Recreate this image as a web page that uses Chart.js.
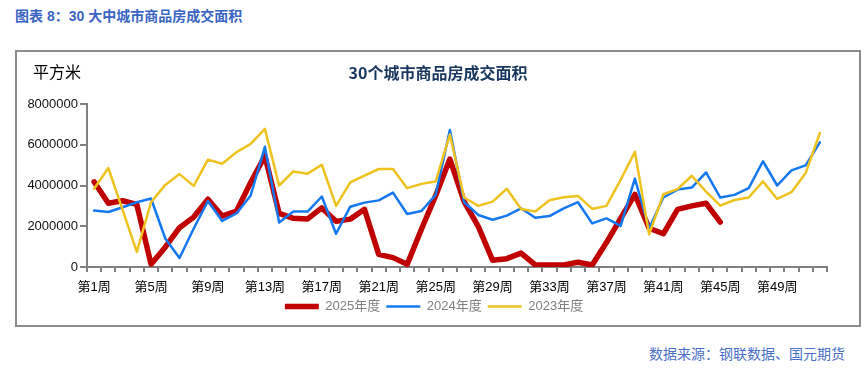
<!DOCTYPE html>
<html>
<head>
<meta charset="utf-8">
<script src="https://cdn.jsdelivr.net/npm/chart.js@4"></script>
<style>
  body { margin: 0; background: #fff; width: 867px; height: 368px; position: relative; overflow: hidden; font-family: "Liberation Sans", "Noto Sans CJK SC", sans-serif; }
  #titulo { position: absolute; left: 15px; top: 5px; font-size: 14px; font-weight: bold; color: #3a64c2; }
  #marco { position: absolute; left: 15px; top: 50px; width: 842px; height: 273px; border: 2px solid #8c8c8c; }
  #fuente { position: absolute; left: 649px; top: 343px; font-size: 14px; color: #4a6fc7; }
</style>
</head>
<body>
<div id="titulo">图表 8：30 大中城市商品房成交面积</div>
<div id="marco"><canvas id="chart" width="842" height="273"></canvas></div>
<div id="fuente">数据来源：钢联数据、国元期货</div>
<script>
// semanas 1..52
const semanas = Array.from({ length: 52 }, (_, i) => '第' + (i + 1) + '周');

const serie2025 = [
  4180000, 3130000, 3250000, 3070000, 140000, 970000, 1930000, 2450000, 3330000, 2500000,
  2740000, 4150000, 5450000, 2630000, 2390000, 2360000, 2900000, 2240000, 2350000, 2830000,
  620000, 460000, 130000, 1850000, 3500000, 5300000, 3210000, 1980000, 330000, 410000,
  680000, 100000, 100000, 100000, 230000, 100000, 1200000, 2380000, 3560000, 1900000,
  1630000, 2830000, 3000000, 3130000, 2200000
];

const serie2024 = [
  2770000, 2700000, 2930000, 3180000, 3360000, 1400000, 440000, 1890000, 3240000, 2260000,
  2630000, 3510000, 5900000, 2180000, 2720000, 2720000, 3460000, 1630000, 2960000, 3160000,
  3270000, 3650000, 2600000, 2750000, 3540000, 6720000, 3180000, 2550000, 2320000, 2520000,
  2880000, 2420000, 2500000, 2880000, 3180000, 2140000, 2390000, 2020000, 4340000, 1890000,
  3410000, 3800000, 3900000, 4640000, 3410000, 3540000, 3870000, 5190000, 4000000, 4740000,
  4990000, 6120000
];

const serie2023 = [
  3840000, 4860000, 2800000, 740000, 3180000, 4030000, 4560000, 3980000, 5270000, 5070000,
  5630000, 6040000, 6780000, 4000000, 4690000, 4580000, 5020000, 3000000, 4150000, 4480000,
  4810000, 4810000, 3870000, 4080000, 4200000, 6500000, 3410000, 3000000, 3210000, 3840000,
  2850000, 2720000, 3280000, 3420000, 3490000, 2850000, 3000000, 4280000, 5650000, 1600000,
  3570000, 3820000, 4480000, 3700000, 3010000, 3290000, 3410000, 4200000, 3340000, 3670000,
  4610000, 6580000
];

const ejeY = [0, 2000000, 4000000, 6000000, 8000000];

const fuente = '"Liberation Sans", "Noto Sans CJK SC", sans-serif';

// titulo del grafico y unidad
const textos = {
  id: 'textos',
  afterDraw(chart) {
    const c = chart.ctx;
    c.save();
    c.textBaseline = 'middle';
    c.fillStyle = '#000';
    c.font = '16px ' + fuente;
    c.textAlign = 'left';
    c.fillText('平方米', 16, 22);
    c.fillStyle = '#17375e';
    c.font = 'bold 16px "Noto Sans CJK SC", sans-serif';
    c.textAlign = 'center';
    c.fillText('30个城市商品房成交面积', 421, 21);
    c.restore();
  }
};

const ctx = document.getElementById('chart').getContext('2d');
const chart = new Chart(ctx, {
  type: 'line',
  data: {
    labels: semanas,
    datasets: [
      { label: '2025年度', data: serie2025, borderColor: '#c00000', backgroundColor: '#c00000', borderWidth: 5.5, order: 3 },
      { label: '2024年度', data: serie2024, borderColor: '#1478f0', backgroundColor: '#1478f0', borderWidth: 2.5, order: 2 },
      { label: '2023年度', data: serie2023, borderColor: '#f0c21e', backgroundColor: '#f0c21e', borderWidth: 2.5, order: 1 }
    ]
  },
  options: {
    responsive: false,
    animation: false,
    datasets: {
      line: { pointRadius: 0, pointStyle: 'line', tension: 0, borderCapStyle: 'round', borderJoinStyle: 'round' }
    },
    layout: { padding: { top: 52, right: 8, bottom: 2, left: 0 } },
    plugins: {
      tooltip: { enabled: false },
      legend: {
        position: 'bottom',
        labels: {
          usePointStyle: true,
          pointStyleWidth: 34,
          padding: 6,
          color: '#7f7f7f',
          font: { family: fuente, size: 13 },
          sort: (a, b) => a.datasetIndex - b.datasetIndex
        }
      }
    },
    scales: {
      x: {
        offset: true,
        afterFit: s => { s.height = 27; },
        border: { display: true, color: '#808080', width: 2 },
        grid: { offset: true, drawOnChartArea: false, drawTicks: true, tickLength: 5, color: '#808080', lineWidth: 2 },
        ticks: {
          autoSkip: false,
          maxRotation: 0,
          padding: 8,
          color: '#000',
          font: { family: fuente, size: 13 },
          callback: function (v, i) { return i % 4 === 0 ? semanas[i] : ''; }
        }
      },
      y: {
        min: ejeY[0],
        max: ejeY[ejeY.length - 1],
        afterFit: s => { s.width = 70; },
        afterBuildTicks: s => { s.ticks = ejeY.map(v => ({ value: v })); },
        border: { display: true, color: '#808080', width: 2 },
        grid: { drawOnChartArea: false, drawTicks: true, tickLength: 7, color: '#808080', lineWidth: 2 },
        ticks: {
          padding: 2,
          color: '#111',
          font: { family: fuente, size: 13 },
          callback: v => String(v)
        }
      },
      // eje vacio a la derecha, solo reserva espacio
      margen: {
        type: 'linear',
        position: 'right',
        afterFit: s => { s.width = 24; },
        border: { display: false },
        grid: { display: false },
        ticks: { display: false }
      }
    }
  },
  plugins: [textos]
});
</script>
</body>
</html>
